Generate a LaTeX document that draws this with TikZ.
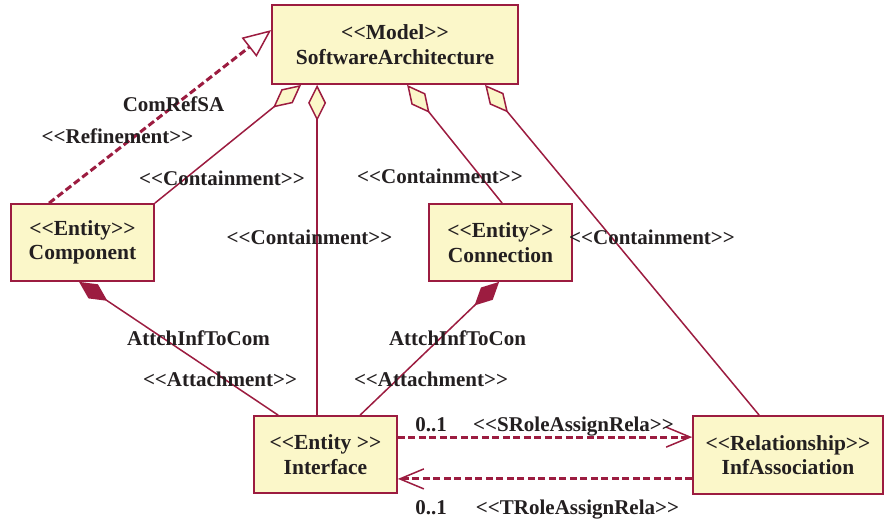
\documentclass[tikz,border=0pt]{standalone}
\usepackage{fontspec}
\newfontfamily\tnr{Liberation Serif}
\usetikzlibrary{arrows.meta}
\definecolor{lc}{HTML}{9C1C40}
\definecolor{bf}{HTML}{FBF7C9}
\definecolor{tc}{HTML}{231F20}
\begin{document}
\begin{tikzpicture}[x=1pt,y=-1pt,
  box/.style={draw=lc, line width=1.8pt, fill=bf, inner sep=0pt, align=center, text=tc,
    font=\tnr\bfseries\fontsize{21.5}{24.5}\selectfont},
  lbl/.style={text=tc, font=\tnr\bfseries\fontsize{21}{24.5}\selectfont, inner sep=0pt, anchor=base},
  con/.style={draw=lc, line width=1.5pt},
  dsh/.style={draw=lc, line width=3pt, dash pattern=on 7pt off 3.5pt},
  odia/.style={{Diamond[length=36pt,width=18pt,fill=bf,line width=1.5pt]}-},
  fdia/.style={{Diamond[length=34pt,width=17pt,fill=lc]}-},
  barb/.style={-{Straight Barb[length=24pt,width=20pt,line width=1.5pt]}},
]
\useasboundingbox[fill=white] (0,0) rectangle (885,522);
% boxes
\node[box, minimum width=246pt, minimum height=79pt] (sa) at (395,44.5) {<<Model>>\\SoftwareArchitecture};
\node[box, minimum width=143pt, minimum height=77pt] (comp) at (82.5,242.5) {<<Entity>>\\Component};
\node[box, minimum width=143pt, minimum height=77pt] (conn) at (500.5,242.5) {<<Entity>>\\Connection};
\node[box, minimum width=143pt, minimum height=77pt] (intf) at (325.5,454.5) {<<Entity >>\\Interface};
\node[box, minimum width=190pt, minimum height=78pt] (infa) at (788,455) {<<Relationship>>\\InfAssociation};
% containment
\draw[con, odia] ([xshift=30pt]sa.south west) -- (comp.north east);
\draw[con, odia] ([xshift=46pt]sa.south west) -- ([xshift=64pt]intf.north west);
\draw[con, odia] ([xshift=136pt]sa.south west) -- ([xshift=74pt]conn.north west);
\draw[con, odia] ([xshift=214pt]sa.south west) -- ([xshift=67pt]infa.north west);
% attachment
\draw[con, fdia] ([xshift=69pt]comp.south west) -- ([xshift=25pt]intf.north west);
\draw[con, fdia] ([xshift=71pt]conn.south west) -- ([xshift=107pt]intf.north west);
% refinement
\draw[dsh, -{Triangle[open, length=28pt, width=24pt, line width=1.5pt]}] ([xshift=39pt]comp.north west) -- ([yshift=-26pt]sa.north west);
% role assignments
\draw[dsh, barb] ([yshift=-22pt]intf.north east) -- ([yshift=-22pt]infa.north west);
\draw[dsh, barb] ([yshift=16pt]infa.south west) -- ([yshift=15pt]intf.south east);
% labels
\node[lbl] (lref1) at (173.5,111) {ComRefSA};
\node[lbl] (lref2) at (117.5,143) {<<Refinement>>};
\node[lbl] (lc1) at (222,185) {<<Containment>>};
\node[lbl] (lc2) at (309.5,244) {<<Containment>>};
\node[lbl] (lc3) at (440,183) {<<Containment>>};
\node[lbl] (lc4) at (652,244) {<<Containment>>};
\node[lbl] (la1) at (198.5,345) {AttchInfToCom};
\node[lbl] (la2) at (220,386) {<<Attachment>>};
\node[lbl] (la3) at (457.5,345) {AttchInfToCon};
\node[lbl] (la4) at (431,386) {<<Attachment>>};
\node[lbl] (m1) at (431,431) {0..1};
\node[lbl] (s1) at (573.5,431) {<<SRoleAssignRela>>};
\node[lbl] (m2) at (431,514) {0..1};
\node[lbl] (s2) at (577.5,514) {<<TRoleAssignRela>>};
\end{tikzpicture}
\end{document}
